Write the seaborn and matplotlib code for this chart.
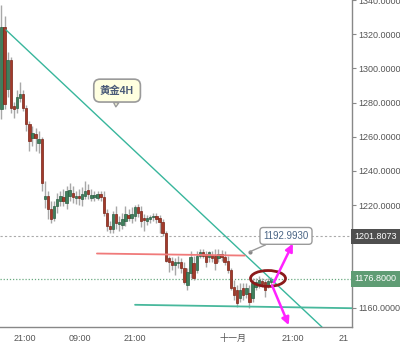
import matplotlib
matplotlib.use("Agg")
import matplotlib.pyplot as plt
import matplotlib.transforms as mtransforms
from matplotlib.patches import Ellipse
import numpy as np
import pandas as pd
import seaborn as sns

# ---------------- data ----------------
opens = [1276.0, 1324.2, 1288.2, 1305.1, 1277.7, 1276.6, 1282.4, 1285.3, 1276.6, 1267.3,
         1259.1, 1261.5, 1256.2, 1258.5, 1223.7, 1225.4, 1217.9, 1212.6, 1219.6, 1222.5,
         1224.8, 1221.3, 1225.4, 1227.2, 1224.2, 1225.4, 1223.7, 1225.4, 1228.9, 1224.2,
         1224.8, 1224.2, 1226.6, 1224.8, 1215.5, 1208.0, 1206.2, 1214.9, 1209.1, 1208.5,
         1210.9, 1214.4, 1212.6, 1213.8, 1219.0, 1216.7, 1212.6, 1210.9, 1212.0, 1213.2,
         1213.8, 1212.6, 1210.3, 1203.9, 1188.8, 1187.6, 1184.7, 1185.9, 1186.5, 1183.0,
         1173.1, 1180.1, 1185.9, 1181.8, 1190.5, 1192.3, 1191.7, 1189.4, 1191.1, 1190.5,
         1188.8, 1191.7, 1189.9, 1187.6, 1181.8, 1171.9, 1170.2, 1165.5, 1171.3, 1167.9,
         1168.4, 1165.5, 1171.9, 1173.1, 1175.4, 1174.8, 1173.1, 1174.8]
closes = [1324.2, 1278.9, 1305.1, 1276.6, 1276.0, 1283.5, 1285.3, 1276.6, 1267.3, 1257.4,
          1262.0, 1259.1, 1258.5, 1233.0, 1225.4, 1217.9, 1212.0, 1219.6, 1223.7, 1225.4,
          1222.5, 1228.3, 1228.9, 1224.8, 1225.4, 1224.2, 1226.6, 1228.3, 1226.6, 1226.0,
          1226.0, 1226.6, 1224.8, 1215.5, 1208.0, 1206.2, 1214.9, 1209.7, 1210.3, 1212.0,
          1214.9, 1212.6, 1214.9, 1219.0, 1215.5, 1210.9, 1211.4, 1212.6, 1213.2, 1213.8,
          1212.0, 1210.3, 1203.9, 1187.6, 1186.5, 1184.7, 1186.5, 1186.5, 1183.0, 1174.8,
          1180.6, 1189.4, 1177.2, 1190.5, 1192.3, 1190.5, 1186.5, 1192.3, 1188.8, 1185.9,
          1191.7, 1189.9, 1186.5, 1181.8, 1171.3, 1167.3, 1162.6, 1170.2, 1167.3, 1171.3,
          1163.2, 1174.2, 1174.8, 1176.0, 1173.7, 1170.2, 1175.4, 1176.8]
highs = [1337.0, 1330.6, 1309.7, 1306.8, 1280.6, 1287.6, 1292.3, 1287.6, 1278.3, 1269.0,
         1266.1, 1264.9, 1263.2, 1259.7, 1234.1, 1228.3, 1222.5, 1222.5, 1227.2, 1228.3,
         1229.5, 1231.2, 1233.0, 1231.2, 1228.3, 1229.5, 1230.6, 1234.1, 1232.4, 1229.5,
         1228.3, 1228.3, 1228.3, 1228.3, 1217.9, 1210.9, 1216.7, 1219.6, 1213.8, 1215.5,
         1219.6, 1217.9, 1219.0, 1220.2, 1220.8, 1219.6, 1214.9, 1214.4, 1214.4, 1215.5,
         1215.5, 1214.4, 1212.0, 1205.1, 1190.5, 1189.9, 1188.8, 1190.5, 1188.8, 1186.5,
         1183.0, 1193.4, 1190.5, 1193.4, 1194.6, 1194.6, 1193.4, 1193.4, 1193.4, 1194.6,
         1194.6, 1194.0, 1193.4, 1190.5, 1183.0, 1176.0, 1173.1, 1174.2, 1174.2, 1174.2,
         1173.1, 1177.2, 1177.2, 1178.3, 1177.2, 1176.6, 1177.2, 1177.7]
lows = [1270.2, 1276.0, 1283.5, 1273.7, 1270.8, 1273.7, 1280.6, 1274.8, 1263.2, 1251.6,
        1254.5, 1251.6, 1250.4, 1228.3, 1218.4, 1212.0, 1209.7, 1210.9, 1215.5, 1219.6,
        1219.6, 1217.9, 1222.5, 1221.3, 1220.8, 1220.2, 1219.6, 1223.7, 1223.7, 1222.5,
        1222.5, 1223.1, 1222.5, 1213.8, 1205.1, 1203.9, 1203.9, 1206.2, 1205.1, 1206.2,
        1208.0, 1210.9, 1209.7, 1210.9, 1213.2, 1207.4, 1205.1, 1208.5, 1209.7, 1210.9,
        1209.7, 1203.9, 1202.2, 1186.5, 1180.6, 1181.8, 1178.9, 1183.0, 1180.1, 1173.7,
        1170.2, 1177.2, 1176.0, 1180.1, 1188.8, 1188.8, 1184.1, 1186.5, 1186.5, 1181.8,
        1186.5, 1187.6, 1184.7, 1180.1, 1170.2, 1164.4, 1160.3, 1163.2, 1164.4, 1165.5,
        1159.7, 1163.2, 1170.2, 1171.3, 1171.9, 1166.1, 1171.3, 1173.7]

tick_pos = [7.6, 25.3, 43.1, 74.7, 94.0, 110.5]
tick_labels = ["21:00", "09:00", "21:00", "十一月", "21:00", "21"]
y_ticks = [1160, 1180, 1200, 1220, 1240, 1260, 1280, 1300, 1320, 1340]

# drawings (index, price)
trend_down_x = [1.45, 103.4]
trend_down_y = [1322.5, 1148.7]
support_x = [43.1, 113.0]
support_y = [1161.7, 1159.7]
resist_x = [30.8, 78.5]
resist_y = [1191.7, 1190.5]
level_grey = 1201.8073
level_green = 1176.8
callout_value = "1192.9930"
callout_point = (80.2, 1192.8)
callout_text_pos = (91.8, 1202.0)
bubble_text = "黄金4H"
bubble_pos = (37.3, 1287.0)
bubble_point = (36.9, 1277.5)
ellipse_center = (86.0, 1177.1)
ellipse_size = (11.3, 9.3)
arrow_up = [(87.9, 1174.8), (94.0, 1197.5)]
arrow_down = [(87.3, 1173.1), (92.7, 1149.8)]

# ---------------- figure ----------------
sns.set_style("white")
plt.rcParams['font.family'] = ['Liberation Sans', 'Noto Sans CJK SC', 'DejaVu Sans']

df = pd.DataFrame({"o": opens, "c": closes, "h": highs, "l": lows})
df["i"] = np.arange(len(df))
df["up"] = df["c"] >= df["o"]

fig = plt.figure(figsize=(4.0, 3.43), dpi=100)
ax = fig.add_axes([0.0, 0.0466, 0.879, 0.9534])
ax.set_facecolor("white")

# wicks
ax.vlines(df["i"], df["l"], df["h"], color="#a8a8a8", lw=1.0, zorder=2)
# bodies
body_bottom = np.minimum(df["o"], df["c"])
body_h = np.maximum(np.abs(df["c"] - df["o"]), 0.6)
face = np.where(df["up"], "#3f7f5c", "#a33a2a")
edge = np.where(df["up"], "#2c5e43", "#7a2418")
ax.bar(df["i"], body_h, bottom=body_bottom, width=0.78, color=face,
       edgecolor=edge, linewidth=0.5, zorder=3)

# trend lines via seaborn
sns.lineplot(x=trend_down_x, y=trend_down_y, ax=ax, color="#38b69c", lw=1.0, zorder=4)
sns.lineplot(x=support_x, y=support_y, ax=ax, color="#48b89c", lw=1.3, zorder=4)
sns.lineplot(x=resist_x, y=resist_y, ax=ax, color="#f07a7a", lw=1.3, zorder=4)

ax.axhline(level_grey, color="#aaaaaa", ls=(0, (2, 2)), lw=0.8, zorder=1)
ax.axhline(level_green, color="#6aaa80", ls=(0, (1, 1.5)), lw=0.9, zorder=1)

# ellipse and arrows
ax.add_patch(Ellipse(ellipse_center, ellipse_size[0], ellipse_size[1], fill=False,
                     ec="#8b1a1a", lw=2.0, zorder=6))
for (s, e) in (arrow_up, arrow_down):
    ax.annotate("", xy=e, xytext=s,
                arrowprops=dict(arrowstyle="-|>", color="#ff22ff", lw=1.8,
                                mutation_scale=11, shrinkA=0, shrinkB=0), zorder=7)

# callout value
ax.plot([callout_point[0]], [callout_point[1]], "o", ms=2, color="#888888", zorder=7)
ax.annotate(callout_value, xy=callout_point, xytext=callout_text_pos,
            ha="center", va="center", fontsize=7, color="#4a6585",
            bbox=dict(boxstyle="round,pad=0.35", fc="white", ec="#9a9a9a", lw=1.0),
            arrowprops=dict(arrowstyle="-", color="#9a9a9a", lw=1.0, shrinkA=0, shrinkB=0),
            zorder=8)

# bubble
ax.annotate(bubble_text, xy=bubble_point, xytext=bubble_pos,
            ha="center", va="center", fontsize=7.5, color="#4a5a78", fontweight="bold",
            bbox=dict(boxstyle="round,pad=0.6", fc="#ffffe0", ec="#9a9a9a", lw=1.2),
            arrowprops=dict(arrowstyle="wedge,tail_width=0.5", fc="#ffffe0", ec="#9a9a9a",
                            lw=1.0, shrinkA=0, shrinkB=0),
            zorder=8)

# axes limits / ticks
ax.set_xlim(-0.48, 112.97)
ax.set_ylim(1148.7, 1338.8)
ax.yaxis.tick_right()
ax.set_yticks(y_ticks)
ax.set_yticklabels([f"{v:.4f}" for v in y_ticks])
ax.set_xticks(tick_pos)
ax.set_xticklabels(tick_labels)
ax.tick_params(axis="y", direction="out", length=3, width=0.8, color="#888888",
               labelcolor="#555555", labelsize=6.5, pad=1.5, right=True, left=False)
ax.tick_params(axis="x", direction="out", length=3, width=0.8, color="#888888",
               labelcolor="#555555", labelsize=6.5, pad=2)
for side in ("top", "left"):
    ax.spines[side].set_visible(False)
for side in ("right", "bottom"):
    ax.spines[side].set_color("#888888")
    ax.spines[side].set_linewidth(1.0)
ax.set_xlabel("")
ax.set_ylabel("")

# right-side price labels
trans = mtransforms.blended_transform_factory(ax.transAxes, ax.transData)
ax.text(1.008, level_grey, f"{level_grey:.4f}", transform=trans, ha="left", va="center",
        fontsize=6.5, color="white", clip_on=False, zorder=10,
        bbox=dict(boxstyle="square,pad=0.35", fc="#4f4f4f", ec="none"))
ax.text(1.008, level_green, f"{level_green:.4f}", transform=trans, ha="left", va="center",
        fontsize=6.5, color="white", clip_on=False, zorder=10,
        bbox=dict(boxstyle="square,pad=0.35", fc="#5f9c74", ec="none"))

fig.savefig("out.png", dpi=100)
